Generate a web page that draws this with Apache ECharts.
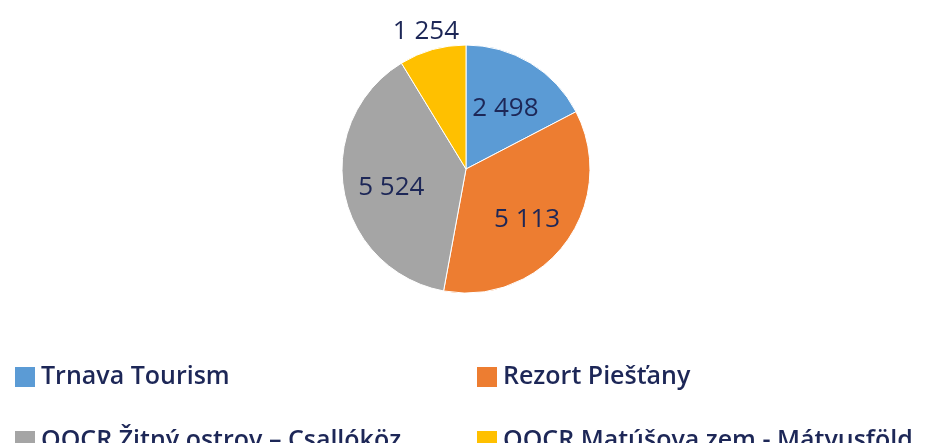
<!DOCTYPE html>
<html>
<head>
<meta charset="utf-8">
<script src="https://cdn.jsdelivr.net/npm/echarts@6/dist/echarts.min.js"></script>
<style>
  html, body { margin: 0; padding: 0; background: #fff; }
  #chart { width: 935px; height: 443px; }
</style>
</head>
<body>
<div id="chart"></div>
<script>
const names = ['Trnava Tourism', 'Rezort Piešťany', 'OOCR Žitný ostrov – Csallóköz', 'OOCR Matúšova zem - Mátyusföld']
const values = [2498, 5113, 5524, 1254]
const colors = ['#5B9BD5', '#ED7D31', '#A5A5A5', '#FFC000']
const outside = [false, false, false, true] // 1 254 sits above the pie

const fmt = v => String(v).replace(/\B(?=(\d{3})+(?!\d))/g, ' ')
const ink = '#1d2757'

const chart = echarts.init(document.getElementById('chart'))

const base = {
  type: 'pie',
  center: [466, 169],
  startAngle: 90,
  clockwise: true,
  animation: false,
}
// small downward nudge so the digits sit where the original ones do
const labelFont = { color: ink, fontSize: 26, fontFamily: 'Open Sans', fontWeight: 400, offset: [0, 5] }

chart.setOption({
  legend: {
    data: names,
    left: 13,
    top: 360,
    width: 935,
    padding: 0,
    orient: 'horizontal',
    icon: 'rect',
    itemWidth: 22,
    itemHeight: 22,
    itemGap: 30,
    selectedMode: false,
    textStyle: {
      color: ink, fontSize: 25, fontFamily: 'Open Sans', fontWeight: 600,
      width: 404, lineHeight: 34, overflow: 'none'
    }
  },
  series: [
    {
      ...base,
      radius: [0, 124],
      label: { show: false },
      labelLine: { show: false },
      itemStyle: { borderColor: '#fff', borderWidth: 1 },
      data: names.map((n, i) => ({ name: n, value: values[i], itemStyle: { color: colors[i] } }))
    },
    {
      // transparent ring used only to place the inner labels
      ...base,
      radius: [0, 146],
      silent: true,
      legendHoverLink: false,
      itemStyle: { color: 'transparent' },
      label: { show: true, position: 'inside', formatter: p => fmt(p.value), ...labelFont },
      labelLine: { show: false },
      data: names.map((n, i) => ({ name: n, value: values[i], label: { show: !outside[i] } }))
    },
    {
      // same for the outer label
      ...base,
      radius: [0, 290],
      silent: true,
      legendHoverLink: false,
      itemStyle: { color: 'transparent' },
      label: { show: true, position: 'inside', formatter: p => fmt(p.value), ...labelFont },
      labelLine: { show: false },
      data: names.map((n, i) => ({ name: n, value: values[i], label: { show: outside[i] } }))
    }
  ]
})
</script>
</body>
</html>
